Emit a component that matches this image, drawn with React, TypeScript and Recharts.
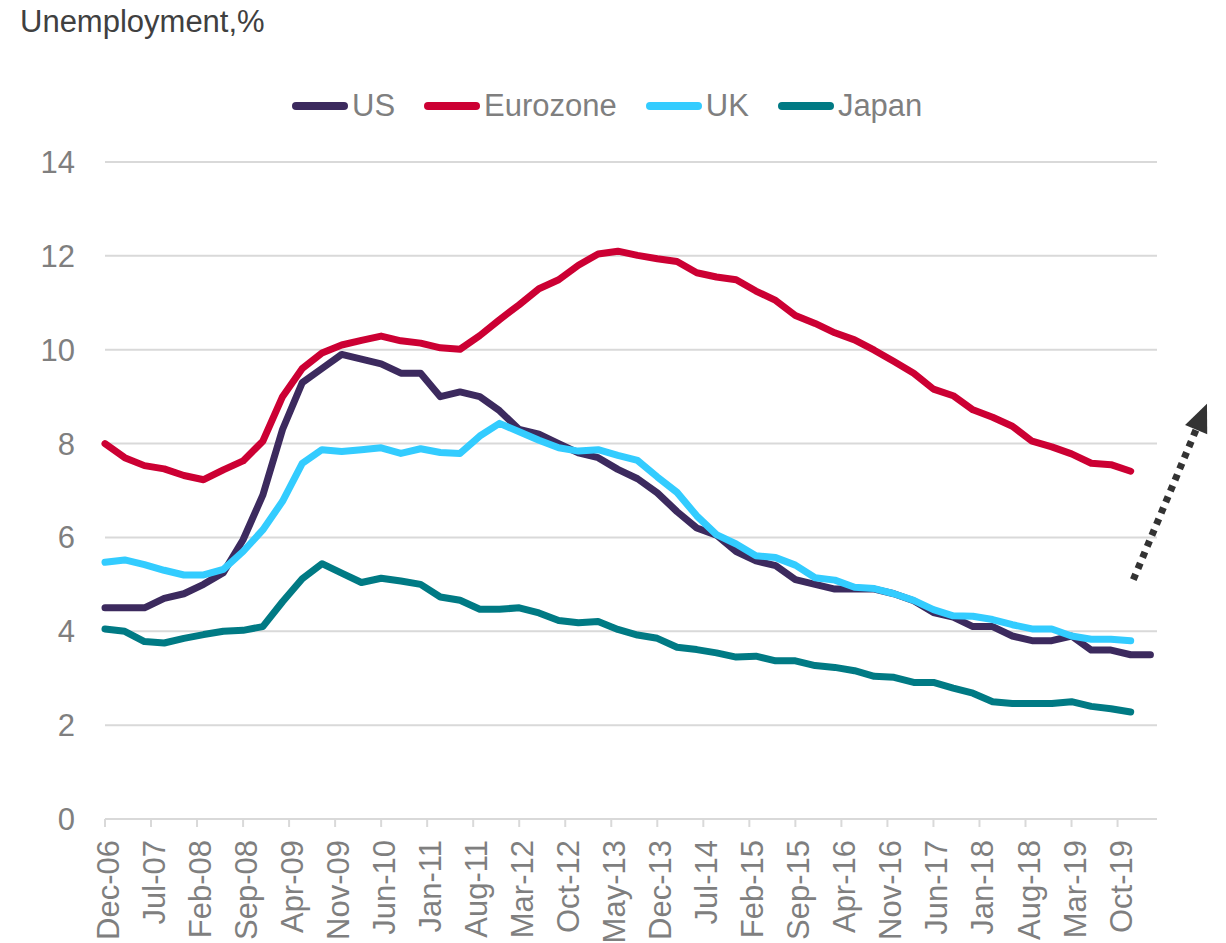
import React from 'react';
import { LineChart, Line, XAxis, YAxis, CartesianGrid, ReferenceLine } from 'recharts';

// quarterly readings, first point = Dec-06
const us = [
  4.5, 4.5, 4.5, 4.7, 4.8, 5.0, 5.25, 5.95, 6.9, 8.3, 9.3, 9.6, 9.9, 9.8,
  9.7, 9.5, 9.5, 9.0, 9.1, 9.0, 8.7, 8.3, 8.2, 8.0, 7.8, 7.7, 7.45, 7.25,
  6.95, 6.55, 6.2, 6.05, 5.7, 5.5, 5.4, 5.1, 5.0, 4.9, 4.9, 4.9, 4.8, 4.65,
  4.4, 4.3, 4.1, 4.1, 3.9, 3.8, 3.8, 3.9, 3.6, 3.6, 3.5, 3.5,
];
const eurozone = [
  8.0, 7.7, 7.53, 7.46, 7.32, 7.23, 7.44, 7.63, 8.05, 9.0, 9.6, 9.93, 10.1, 10.2,
  10.29, 10.19, 10.14, 10.04, 10.01, 10.3, 10.64, 10.96, 11.3, 11.49, 11.8, 12.04, 12.1, 12.01,
  11.94, 11.88, 11.64, 11.55, 11.49, 11.25, 11.05, 10.73, 10.56, 10.36, 10.21, 9.99, 9.75, 9.5,
  9.16, 9.02, 8.72, 8.56, 8.37, 8.05, 7.93, 7.78, 7.58, 7.55, 7.41,
];
const uk = [
  5.47, 5.52, 5.42, 5.3, 5.2, 5.2, 5.32, 5.7, 6.16, 6.77, 7.58, 7.87, 7.83, 7.87,
  7.91, 7.79, 7.89, 7.81, 7.79, 8.16, 8.43, 8.25, 8.07, 7.91, 7.84, 7.87, 7.75, 7.64,
  7.29, 6.96, 6.46, 6.06, 5.86, 5.61, 5.57, 5.41, 5.14, 5.09, 4.94, 4.91, 4.8, 4.66,
  4.46, 4.33, 4.32, 4.25, 4.14, 4.05, 4.05, 3.9, 3.83, 3.83, 3.8,
];
const japan = [
  4.05, 4.0, 3.78, 3.75, 3.85, 3.93, 4.0, 4.02, 4.1, 4.63, 5.12, 5.44, 5.24, 5.04,
  5.13, 5.07, 5.0, 4.73, 4.66, 4.47, 4.47, 4.5, 4.39, 4.23, 4.18, 4.21, 4.04, 3.92,
  3.85, 3.66, 3.61, 3.54, 3.45, 3.47, 3.37, 3.37, 3.27, 3.23, 3.16, 3.04, 3.02, 2.91,
  2.91, 2.79, 2.68, 2.5, 2.46, 2.46, 2.46, 2.5, 2.4, 2.35, 2.28,
];

// axis labels, one every 7 months
const tickLabels = [
  'Dec-06', 'Jul-07', 'Feb-08', 'Sep-08', 'Apr-09', 'Nov-09', 'Jun-10', 'Jan-11',
  'Aug-11', 'Mar-12', 'Oct-12', 'May-13', 'Dec-13', 'Jul-14', 'Feb-15', 'Sep-15',
  'Apr-16', 'Nov-16', 'Jun-17', 'Jan-18', 'Aug-18', 'Mar-19', 'Oct-19',
];
const yTicks = [0, 2, 4, 6, 8, 10, 12, 14];

const series = [
  { key: 'us', name: 'US', color: '#3C2A5E' },
  { key: 'eurozone', name: 'Eurozone', color: '#CC0033' },
  { key: 'uk', name: 'UK', color: '#33CCFF' },
  { key: 'japan', name: 'Japan', color: '#007A84' },
];

// annotation arrow, in (month, %) units
const arrowFrom = { x: 156.4, y: 5.1 };
const arrowTo = { x: 167.6, y: 8.85 };

const data = us.map((v, i) => ({
  m: i * 3,
  us: v,
  eurozone: eurozone[i],
  uk: uk[i],
  japan: japan[i],
}));

const FONT = '"Liberation Sans", Arial, sans-serif';
const GREY = '#7F7F7F';

const XTick = ({ x, y, payload }: any) => (
  <g transform={`translate(${x},${y})`}>
    <text
      transform="rotate(-90)"
      textAnchor="end"
      dy={14}
      fill={GREY}
      fontSize={31}
      fontFamily={FONT}
    >
      {tickLabels[Math.round(payload.value / 7)]}
    </text>
  </g>
);

const Arrow = ({ x1, y1, x2, y2 }: any) => {
  const dx = x2 - x1;
  const dy = y2 - y1;
  const len = Math.sqrt(dx * dx + dy * dy);
  const ux = dx / len;
  const uy = dy / len;
  const head = 28;
  const half = 12;
  const bx = x2 - ux * head;
  const by = y2 - uy * head;
  return (
    <g>
      <line
        x1={x1}
        y1={y1}
        x2={bx + ux * 2}
        y2={by + uy * 2}
        stroke="#333333"
        strokeWidth={7}
        strokeDasharray="6 6"
      />
      <polygon
        points={`${x2},${y2} ${bx - uy * half},${by + ux * half} ${bx + uy * half},${by - ux * half}`}
        fill="#333333"
      />
    </g>
  );
};

const App = () => {
  return (
    <div style={{ position: 'relative', width: 1226, height: 943, background: '#fff' }}>
      <style>{'body{margin:0;overflow:hidden}'}</style>
      <div
        style={{
          position: 'absolute',
          left: 20,
          top: 6,
          fontFamily: FONT,
          fontSize: 31,
          lineHeight: '31px',
          color: '#404040',
          whiteSpace: 'nowrap',
        }}
      >
        Unemployment,%
      </div>

      <div
        style={{
          position: 'absolute',
          left: 292,
          top: 90,
          height: 31,
          display: 'flex',
          alignItems: 'center',
          fontFamily: FONT,
          fontSize: 31,
          lineHeight: '31px',
          color: GREY,
          whiteSpace: 'nowrap',
        }}
      >
        {series.map((s, i) => (
          <div key={s.key} style={{ display: 'flex', alignItems: 'center', marginLeft: i === 0 ? 0 : 29 }}>
            <div style={{ width: 56, height: 8, borderRadius: 4, background: s.color, marginRight: 4 }} />
            <span>{s.name}</span>
          </div>
        ))}
      </div>

      <div style={{ position: 'absolute', left: 0, top: 0 }}>
        <LineChart
          width={1226}
          height={943}
          data={data}
          margin={{ top: 162, right: 69, bottom: 0, left: 0 }}
        >
          <CartesianGrid vertical={false} stroke="#D9D9D9" strokeWidth={2} />
          <XAxis
            type="number"
            dataKey="m"
            domain={[0, 160]}
            ticks={tickLabels.map((_, i) => i * 7)}
            height={124}
            axisLine={{ stroke: '#D9D9D9', strokeWidth: 2 }}
            tickLine={{ stroke: '#D9D9D9', strokeWidth: 2 }}
            tickSize={8}
            tickMargin={13}
            tick={<XTick />}
            interval={0}
          />
          <YAxis
            domain={[0, 14]}
            ticks={yTicks}
            width={105}
            axisLine={false}
            tickLine={false}
            tickSize={0}
            tickMargin={30}
            tick={{ fill: GREY, fontSize: 31, fontFamily: FONT }}
          />
          {series.map((s) => (
            <Line
              key={s.key}
              type="linear"
              dataKey={s.key}
              name={s.name}
              stroke={s.color}
              strokeWidth={7}
              strokeLinejoin="round"
              strokeLinecap="round"
              dot={false}
              activeDot={false}
              isAnimationActive={false}
            />
          ))}
          <ReferenceLine
            segment={[arrowFrom, arrowTo]}
            ifOverflow="visible"
            shape={<Arrow />}
          />
        </LineChart>
      </div>
    </div>
  );
};

export default App;
